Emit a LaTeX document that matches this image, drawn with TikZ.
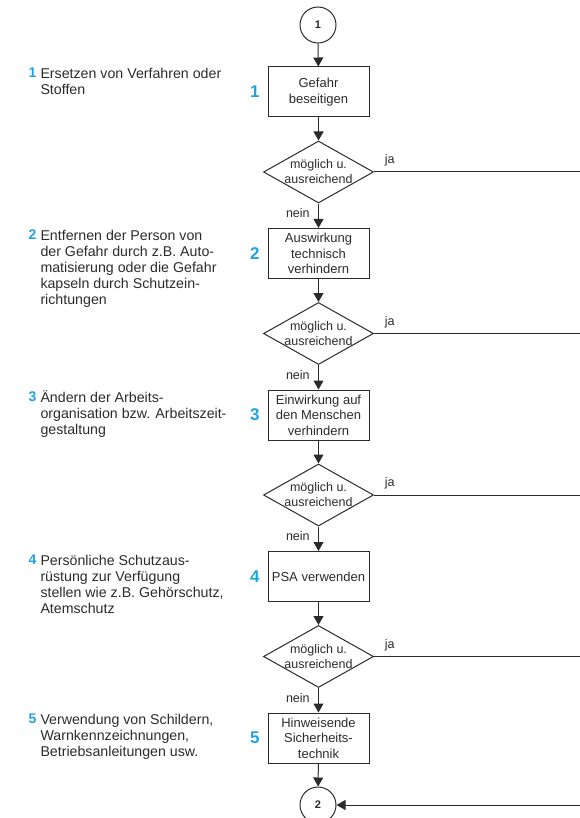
\documentclass[tikz,border=0pt]{standalone}
\usepackage{fontspec}
\setmainfont{Liberation Sans}
\usetikzlibrary{positioning,shapes.geometric,arrows.meta}
\definecolor{hblue}{HTML}{1FA3E0}
\definecolor{ink}{HTML}{2B2B2B}
\newcommand{\firstline}{\rule{0pt}{13pt}}
\tikzset{
  box/.style={draw, rectangle, minimum width=101pt, minimum height=50pt, inner sep=1pt, align=center, font=\fontsize{13}{15.5}\selectfont},
  decision/.style={draw, diamond, minimum width=110pt, minimum height=62pt, inner sep=0pt},
  conn/.style={draw, circle, minimum size=36pt, inner sep=0pt, font=\fontsize{11}{13}\selectfont\bfseries},
  item/.style={align=left, inner sep=0pt, anchor=north west, font=\fontsize{14.2}{16}\selectfont},
  bnum/.style={text=hblue, font=\fontsize{17}{17}\selectfont\bfseries},
  lnum/.style={text=hblue, inner sep=0pt, anchor=base east, font=\fontsize{14}{16}\selectfont\bfseries},
  small/.style={font=\fontsize{12.5}{15}\selectfont},
  flow/.style={-{Triangle[length=9pt,width=10pt]}}
}
\begin{document}
\begin{tikzpicture}[x=1pt, y=-1pt, line width=1pt, color=ink]
    \clip (0,0) rectangle (580,818);
    % main column
    \node[conn] (c1) at (318,25) {1};
    \node[box] (b1) at (318.5,92) {Gefahr\\beseitigen};
    \node[box] (b2) at (318.5,253.5) {Auswirkung\\technisch\\verhindern};
    \node[box] (b3) at (318.5,415) {Einwirkung auf\\den Menschen\\verhindern};
    \node[box] (b4) at (318.5,576.5) {PSA verwenden};
    \node[box] (b5) at (318.5,738) {Hinweisende\\Sicherheits-\\technik};
    \node[conn] (c2) at (318,805) {2};
    \coordinate (rail) at (590,805);
    \foreach \i in {1,...,5}
        \node[bnum, left=4pt of b\i] (n\i) {\i};
    % explanations on the left
    \node[item] (t1) at (40,64.6) {\firstline Ersetzen von Verfahren oder\\Stoffen};
    \node[item] (t2) at (40,226.6) {\firstline Entfernen der Person von\\der Gefahr durch z.B. Auto-\\matisierung oder die Gefahr\\kapseln durch Schutzein-\\richtungen};
    \node[item] (t3) at (40,388.6) {\firstline Ändern der Arbeits-\\organisation bzw. Arbeitszeit-\\gestaltung};
    \node[item] (t4) at (40,551.6) {\firstline Persönliche Schutzaus-\\rüstung zur Verfügung\\stellen wie z.B. Gehörschutz,\\Atemschutz};
    \node[item] (t5) at (40,710.6) {\firstline Verwendung von Schildern,\\Warnkennzeichnungen,\\Betriebsanleitungen usw.};
    \foreach \i in {1,...,5}
        \node[lnum] (m\i) at ([xshift=-3pt,yshift=-13pt]t\i.north west) {\i};
    % decisions
    \foreach \i/\j in {1/2,2/3,3/4,4/5} {
        \node[decision, label={[small, align=center]center:möglich u.\\ausreichend}] (d\i) at (318.5,{10.5+161.5*\i}) {};
        \draw[flow] (b\i) -- (d\i);
        \draw[flow] (d\i) -- node[small, left=5pt, pos=0.4] {nein} (b\j);
        \draw (d\i.east) node[small, anchor=south west, xshift=7pt, yshift=2pt] {ja} -- (d\i.east -| rail);
    }
    \draw[flow] (c1) -- (b1);
    \draw[flow] (b5) -- (c2);
    \draw[flow] (d1.east -| rail) -- (rail) -- (c2);
\end{tikzpicture}
\end{document}
